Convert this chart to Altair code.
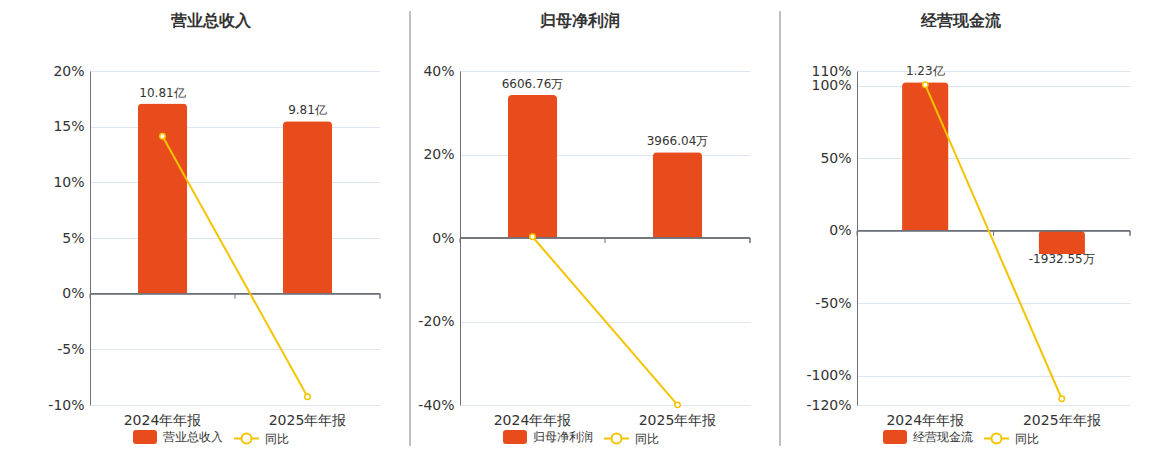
import altair as alt
import pandas as pd

FONT = "DejaVu Sans"
BAR_COLOR = "#E84C1C"
LINE_COLOR = "#F5C400"
AXIS_COLOR = "#6E7079"
GRID_COLOR = "#E0E6F1"
TEXT_COLOR = "#333333"

# ---------------- data ----------------
periods = ["2024年年报", "2025年年报"]
titles = ["营业总收入", "归母净利润", "经营现金流"]
yoy_name = "同比"

# bar values in 万元
bar_values = [[108100.0, 98100.0], [6606.76, 3966.04], [12300.0, -1932.55]]
bar_labels = [["10.81亿", "9.81亿"], ["6606.76万", "3966.04万"], ["1.23亿", "-1932.55万"]]
# year-on-year change in %
yoy_values = [[14.14, -9.25], [0.3, -39.97], [100.5, -115.7]]

pct_domains = [[-10, 20], [-40, 40], [-120, 110]]
pct_ticks = [[-10, -5, 0, 5, 10, 15, 20], [-40, -20, 0, 20, 40], [-120, -100, -50, 0, 50, 100, 110]]
bar_domains = [[-63300, 126600], [-7720, 7720], [-14443, 13239]]

# ---------------- layout / style ----------------
plot_w = [290, 290, 273]
plot_h = 334
axis_ext = [50, 50, 77]
title_dx = [-24, -25, -33]
fill_leg_x = [43, 43, 26]
stroke_leg_x = [143, 143, 126]
LEG_Y = 354

RECT_PATH = ("M-0.75,-0.58 L0.75,-0.58 Q1,-0.58 1,-0.33 L1,0.33 Q1,0.58 0.75,0.58 "
             "L-0.75,0.58 Q-1,0.58 -1,0.33 L-1,-0.33 Q-1,-0.58 -0.75,-0.58 Z")
LINE_PATH = ("M-1,0 L-0.4,0 M0.4,0 L1,0 M-0.4,0 A0.4,0.4 0 1,0 0.4,0 "
             "A0.4,0.4 0 1,0 -0.4,0 Z")


def panel(i):
    df = pd.DataFrame({
        "period": periods,
        "value": bar_values[i],
        "label": bar_labels[i],
        "yoy": yoy_values[i],
        "name": [titles[i]] * len(periods),
        "s": [yoy_name] * len(periods),
    })
    W = plot_w[i]
    E = axis_ext[i]
    base = alt.Chart(df)

    x = alt.X("period:N", sort=periods,
              scale=alt.Scale(paddingInner=0, paddingOuter=0),
              axis=alt.Axis(title=None, labelAngle=0, domain=False, ticks=False,
                            labelPadding=8, labelFontSize=14, labelColor=TEXT_COLOR,
                            labelFont=FONT, grid=False))
    ybar = alt.Y("value:Q", scale=alt.Scale(domain=bar_domains[i], nice=False, zero=False),
                 axis=None)

    bars = base.mark_bar(width={"band": 0.34}, cornerRadiusEnd=4).encode(
        x=x, y=ybar,
        fill=alt.Fill("name:N", scale=alt.Scale(range=[BAR_COLOR]),
                      legend=alt.Legend(title=None, orient="none", legendX=fill_leg_x[i],
                                        legendY=LEG_Y, symbolType=RECT_PATH, symbolSize=576,
                                        labelFont=FONT, labelFontSize=12,
                                        labelColor=TEXT_COLOR, padding=0, labelOffset=6,
                                        symbolStrokeWidth=0)))
    pos_lab = base.transform_filter("datum.value >= 0").mark_text(
        baseline="bottom", dy=-4, fontSize=12, color=TEXT_COLOR, font=FONT
    ).encode(x=x, y=ybar, text="label:N")
    neg_lab = base.transform_filter("datum.value < 0").mark_text(
        baseline="top", dy=0, fontSize=12, color=TEXT_COLOR, font=FONT
    ).encode(x=x, y=ybar, text="label:N")
    bar_group = alt.layer(bars, pos_lab, neg_lab)

    ypct = alt.Y("yoy:Q", scale=alt.Scale(domain=pct_domains[i], nice=False, zero=False),
                 axis=alt.Axis(orient="left", title=None, values=pct_ticks[i],
                               labelExpr="datum.value + '%'", grid=True, gridColor=GRID_COLOR,
                               domainColor=AXIS_COLOR, ticks=False, labelPadding=6,
                               labelFontSize=14, labelColor=TEXT_COLOR, labelFont=FONT,
                               minExtent=E, maxExtent=E))

    zero = base.mark_rule(color=AXIS_COLOR, strokeWidth=1.5).encode(
        x=alt.value(0), x2=alt.value(W), y=alt.datum(0))
    ticks = base.mark_rule(color=AXIS_COLOR, y2Offset=5).encode(
        x=alt.X("period:N", sort=periods, bandPosition=0), y=alt.datum(0), y2=alt.datum(0))
    end_tick = base.mark_rule(color=AXIS_COLOR, y2Offset=5).encode(
        x=alt.value(W), y=alt.datum(0), y2=alt.datum(0))
    line = base.mark_line(strokeWidth=2).encode(
        x=x, y=ypct,
        stroke=alt.Stroke("s:N", scale=alt.Scale(range=[LINE_COLOR]),
                          legend=alt.Legend(title=None, orient="none", legendX=stroke_leg_x[i],
                                            legendY=LEG_Y, symbolType=LINE_PATH,
                                            symbolSize=625, symbolStrokeWidth=2,
                                            symbolFillColor="white", labelFont=FONT,
                                            labelFontSize=12, labelColor=TEXT_COLOR,
                                            padding=0, labelOffset=5)))
    pts = base.mark_point(filled=True, fill="white", stroke=LINE_COLOR, strokeWidth=1.5,
                          size=30, opacity=1).encode(x=x, y=ypct)
    sep = base.mark_rule(color="#AAAAAA", strokeWidth=1, opacity=(0 if i == 0 else 1)).encode(
        x=alt.value(-E), y=alt.value(-60), y2=alt.value(375))
    pct_group = alt.layer(zero, ticks, end_tick, line, pts, sep)

    return alt.layer(bar_group, pct_group).resolve_scale(y="independent").properties(
        width=W, height=plot_h,
        title=alt.TitleParams(titles[i], fontSize=16, fontWeight="bold", color=TEXT_COLOR,
                              font=FONT, anchor="middle", frame="group", dx=title_dx[i],
                              offset=-34, baseline="bottom"))


chart = alt.hconcat(panel(0), panel(1), panel(2), spacing=28).resolve_scale(
    fill="independent", stroke="independent"
).resolve_legend(
    fill="independent", stroke="independent"
).properties(
    padding={"left": 32, "top": 2, "right": 0, "bottom": 0}
).configure(font=FONT).configure_view(stroke=None)

chart.save("out.html", embed_options={"renderer": "svg", "actions": False})
